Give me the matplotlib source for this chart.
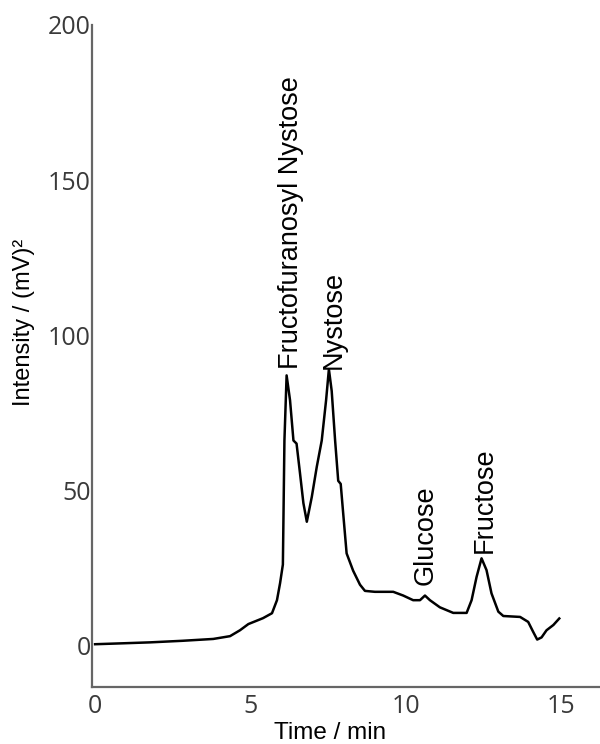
import matplotlib
matplotlib.use("Agg")
import matplotlib.pyplot as plt

# chromatogram trace
time_min = [0.0, 0.9, 1.77, 2.8, 3.8, 4.34, 4.66, 4.93, 5.4, 5.69, 5.85, 5.95,
            6.04, 6.09, 6.16, 6.27, 6.38, 6.48, 6.59, 6.7, 6.81, 6.97, 7.13,
            7.29, 7.43, 7.52, 7.61, 7.72, 7.82, 7.9, 7.98, 8.09, 8.3, 8.52,
            8.68, 9.0, 9.59, 9.91, 10.23, 10.45, 10.61, 10.77, 11.09, 11.52,
            11.95, 12.11, 12.27, 12.43, 12.59, 12.75, 12.97, 13.13, 13.67,
            13.93, 14.09, 14.22, 14.36, 14.52, 14.74, 14.93]
intensity = [0.3, 0.6, 0.9, 1.4, 2.0, 2.9, 4.8, 6.8, 8.7, 10.3, 14.5, 20.0,
             26.0, 66.0, 87.0, 79.0, 66.0, 65.0, 55.5, 45.8, 39.8, 47.8, 57.5,
             66.0, 79.0, 89.0, 82.0, 66.0, 53.0, 52.0, 42.5, 29.6, 24.0, 19.5,
             17.5, 17.2, 17.2, 16.0, 14.5, 14.5, 16.0, 14.5, 12.2, 10.4,
             10.4, 14.5, 22.0, 28.0, 24.2, 16.7, 10.8, 9.4, 9.1,
             7.5, 4.3, 1.8, 2.5, 4.8, 6.5, 8.6]

peak_names = ["Fructofuranosyl Nystose", "Nystose", "Glucose", "Fructose"]
peak_time = [6.31, 7.69, 10.64, 12.53]
peak_label_y = [89.0, 89.0, 19.4, 29.7]

x_ticks = [0, 5, 10, 15]
y_ticks = [0, 50, 100, 150, 200]

plt.rcParams["font.family"] = ["Liberation Sans", "DejaVu Sans"]

fig = plt.figure(figsize=(6, 7.44), dpi=100)
ax = fig.add_axes([0.1533, 0.0766, 0.8467, 0.8898])

ax.plot(time_min, intensity, color="black", linewidth=1.8,
        solid_joinstyle="round")

for name, x, y in zip(peak_names, peak_time, peak_label_y):
    ax.text(x, y, name, rotation=90, ha="center", va="bottom", fontsize=19.5)

ax.set_xlim(-0.1, 16.24)
ax.set_ylim(-13.5, 200)
ax.set_xticks(x_ticks)
ax.set_yticks(y_ticks)

for side in ["top", "right"]:
    ax.spines[side].set_visible(False)
for side in ["left", "bottom"]:
    ax.spines[side].set_color("#666666")
    ax.spines[side].set_linewidth(1.6)

ax.tick_params(length=0, labelsize=18, labelcolor="#3a3a3a")
ax.tick_params(axis="x", pad=5)
ax.tick_params(axis="y", pad=1)
for lbl in ax.get_xticklabels() + ax.get_yticklabels():
    lbl.set_family(["Open Sans", "DejaVu Sans"])

ax.set_xlabel("Time / min", fontsize=17.5)
ax.xaxis.set_label_coords(0.4685, -0.053)
ax.set_ylabel("Intensity / (mV)²", fontsize=17)
ax.yaxis.set_label_coords(-0.112, 0.551)

plt.savefig("out.png", dpi=100)
plt.close()
